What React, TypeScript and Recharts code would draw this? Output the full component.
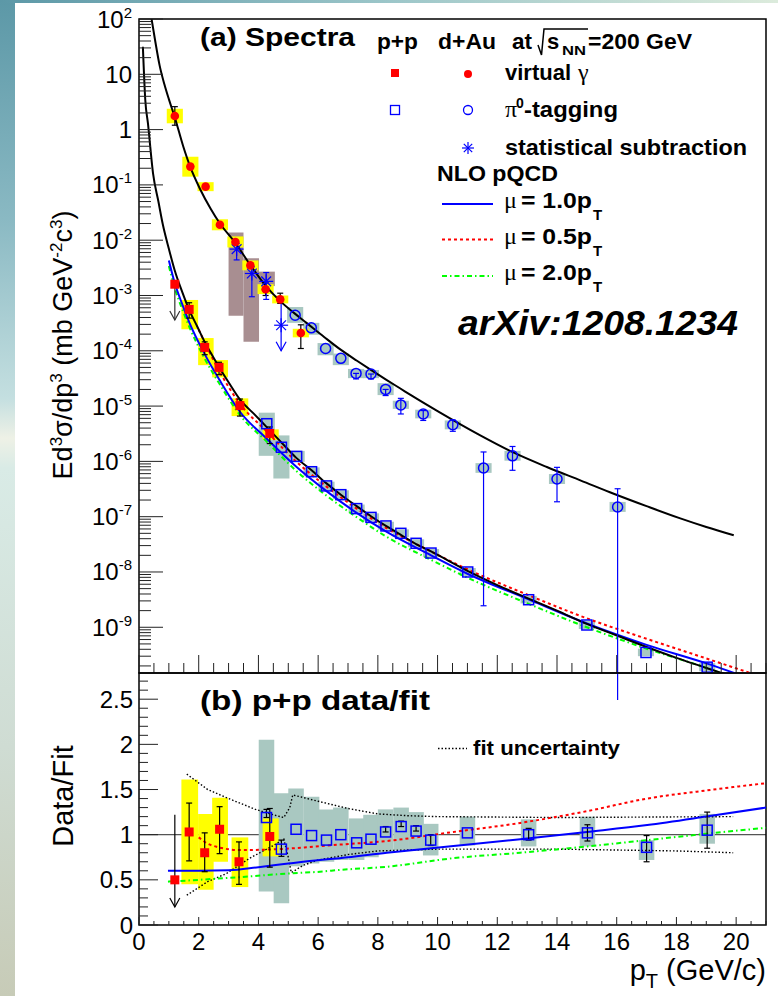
import React from 'react';
import {
  ComposedChart,
  ErrorBar,
  Line,
  ReferenceArea,
  ReferenceLine,
  Scatter,
  XAxis,
  YAxis,
} from 'recharts';

const FONT = '"Liberation Sans", Arial, Helvetica, sans-serif';
const SERIF = '"Liberation Serif", "DejaVu Serif", serif';

const TOP_MIN = 1.49e-10;
const TOP_MAX = 100;
const RATIO_MAX = 2.79;

// ---------- axis ticks ----------
const xTickLabels = [0, 2, 4, 6, 8, 10, 12, 14, 16, 18, 20];
const topYTickValues = [1e2, 1e1, 1, 1e-1, 1e-2, 1e-3, 1e-4, 1e-5, 1e-6, 1e-7, 1e-8, 1e-9];
const topYTickLabels = [
  ['10', '2'], ['10', ''], ['1', ''], ['10', '-1'], ['10', '-2'], ['10', '-3'],
  ['10', '-4'], ['10', '-5'], ['10', '-6'], ['10', '-7'], ['10', '-8'], ['10', '-9'],
];
const ratioYTickValues = [0, 0.5, 1, 1.5, 2, 2.5];
const ratioYTickLabels = ['0', '0.5', '1', '1.5', '2', '2.5'];

// ---------- (a) spectra: fits and NLO ----------
const dauFitPt = [0.4, 0.55, 0.69, 0.85, 1.0, 1.2, 1.48, 1.72, 2.04, 2.4, 2.71, 3.23, 3.73, 4.24, 4.73, 5.2, 5.61, 6.2, 6.73, 7.3, 7.74, 8.3, 8.74, 9.19, 10.0, 11.43, 12.5, 13.66, 14.8, 15.9, 17.0, 18.13, 19.0, 19.92];
const dauFitV = [117, 38, 14.5, 6.6, 3.55, 1.66, 0.5, 0.209, 0.085, 0.037, 0.02, 0.0089, 0.00355, 0.00151, 7.9e-4, 4.8e-4, 3.2e-4, 1.78e-4, 1.07e-4, 6.6e-5, 4.6e-5, 2.95e-5, 2.1e-5, 1.48e-5, 8.1e-6, 2.95e-6, 1.48e-6, 7.9e-7, 4.5e-7, 2.6e-7, 1.55e-7, 9.3e-8, 6.5e-8, 4.6e-8];

const ppFitPt = [0.13, 0.21, 0.3, 0.47, 0.65, 0.8, 1.0, 1.2, 1.45, 1.68, 1.95, 2.2, 2.45, 2.7, 3.0, 3.38, 3.9, 4.27, 4.77, 5.26, 5.78, 6.28, 6.76, 7.29, 7.77, 8.27, 8.77, 9.28, 9.78, 11.0, 12.0, 13.05, 14.0, 15.0, 16.0, 17.0, 18.0, 19.03, 19.8];
const ppFitV = [31.6, 3.47, 1.29, 0.162, 0.05, 0.019, 7.0e-3, 2.8e-3, 1.15e-3, 5.5e-4, 2.75e-4, 1.45e-4, 8.3e-5, 4.9e-5, 2.7e-5, 1.32e-5, 6.8e-6, 4.2e-6, 2.2e-6, 1.17e-6, 6.9e-7, 4.0e-7, 2.5e-7, 1.55e-7, 1.02e-7, 6.8e-8, 4.7e-8, 3.2e-8, 2.35e-8, 1.05e-8, 5.8e-9, 3.3e-9, 2.0e-9, 1.15e-9, 7.1e-10, 4.4e-10, 2.8e-10, 1.82e-10, 1.32e-10];

const nlo10Pt = [1.0, 1.2, 1.45, 1.68, 2.2, 2.7, 3.38, 4.27, 5.26, 6.28, 7.29, 8.27, 9.78, 11.0, 13.05, 15.0, 17.0, 19.03, 20.0];
const nlo10V = [4.3e-3, 1.66e-3, 6.9e-4, 3.3e-4, 8.7e-5, 2.95e-5, 7.9e-6, 2.6e-6, 8.1e-7, 2.9e-7, 1.17e-7, 5.4e-8, 2.0e-8, 9.3e-9, 3.2e-9, 1.17e-9, 4.8e-10, 2.2e-10, 1.45e-10];
const nlo05Pt = [2.0, 2.7, 3.38, 4.27, 5.26, 6.28, 7.29, 8.27, 9.78, 11.0, 13.05, 15.0, 17.0, 19.03, 20.6];
const nlo05V = [2.4e-4, 4.2e-5, 1.1e-5, 3.5e-6, 1.0e-6, 3.5e-7, 1.4e-7, 6.3e-8, 2.35e-8, 1.12e-8, 3.8e-9, 1.45e-9, 6.2e-10, 2.7e-10, 1.41e-10];
const nlo20Pt = [1.0, 1.2, 1.45, 1.68, 2.2, 2.7, 3.38, 4.27, 5.26, 6.28, 7.29, 8.27, 9.78, 11.0, 13.05, 15.0, 17.0, 19.03, 19.6];
const nlo20V = [3.4e-3, 1.35e-3, 5.6e-4, 2.75e-4, 7.2e-5, 2.5e-5, 6.9e-6, 2.3e-6, 6.8e-7, 2.4e-7, 9.8e-8, 4.4e-8, 1.66e-8, 7.9e-9, 2.65e-9, 1.0e-9, 4.1e-10, 1.82e-10, 1.41e-10];

// ---------- (a) spectra: data ----------
const dauGammaPt = [1.2, 1.72, 2.23, 2.71, 3.23, 3.73, 4.24, 4.73, 5.42];
const dauGammaV = [1.76, 0.214, 0.093, 0.019, 0.0093, 0.0035, 0.0013, 8.5e-4, 2.1e-4];
const dauGammaLo = [1.2, 0.2, 0.088, 0.018, 0.0088, 0.0033, 1.0e-3, 7.2e-4, 1.1e-4];
const dauGammaHi = [2.6, 0.23, 0.098, 0.02, 0.0099, 0.0037, 1.7e-3, 1.1e-3, 2.95e-4];
const dauGammaSysLo = [1.3, 0.141, 0.077, 0.0151, 0.0074, 0.00285, 1.06e-3, 7.2e-4, 1.75e-4];
const dauGammaSysHi = [2.38, 0.323, 0.112, 0.0239, 0.0117, 0.0043, 1.6e-3, 1.0e-3, 2.5e-4];

const dauPi0Pt = [5.23, 5.77, 6.25, 6.76, 7.27, 7.77, 8.26, 8.77, 9.52, 10.51, 11.54, 12.51, 14.0, 16.03];
const dauPi0V = [4.4e-4, 2.6e-4, 1.1e-4, 7.3e-5, 3.9e-5, 3.8e-5, 2.0e-5, 1.05e-5, 7.2e-6, 4.6e-6, 7.6e-7, 1.26e-6, 4.8e-7, 1.5e-7];
const dauPi0Lo = [4.4e-4, 2.6e-4, 1.1e-4, 7.3e-5, 3.1e-5, 3.1e-5, 1.55e-5, 7.2e-6, 5.5e-6, 3.5e-6, 2.45e-9, 6.9e-7, 1.86e-7, 1e-12];
const dauPi0Hi = [4.4e-4, 2.6e-4, 1.1e-4, 7.3e-5, 3.9e-5, 3.8e-5, 2.0e-5, 1.38e-5, 8.3e-6, 5.6e-6, 1.48e-6, 1.86e-6, 7.8e-7, 3.2e-7];
const dauPi0SysLo = [3.2e-4, 1.95e-4, 8.3e-5, 5.5e-5, 3.2e-5, 3.2e-5, 1.58e-5, 8.9e-6, 6.0e-6, 3.8e-6, 6.2e-7, 1.03e-6, 3.9e-7, 1.22e-7];
const dauPi0SysHi = [6.2e-4, 3.2e-4, 1.38e-4, 8.9e-5, 4.7e-5, 4.5e-5, 2.6e-5, 1.25e-5, 8.6e-6, 5.5e-6, 9.3e-7, 1.55e-6, 5.9e-7, 1.85e-7];

const dauStatPt = [3.27, 3.78, 4.26];
const dauStatV = [6.9e-3, 2.5e-3, 1.8e-3];
const dauStatLo = [4.4e-3, 9.5e-4, 8.5e-4];
const dauStatHi = [8.7e-3, 3.3e-3, 2.6e-3];
const dauStatSysX1 = [3.0, 3.5, 4.02];
const dauStatSysX2 = [3.5, 4.02, 4.55];
const dauStatSysLo = [4.3e-4, 1.45e-4, 1.48e-3];
const dauStatSysHi = [1.38e-2, 4.7e-3, 2.7e-3];
const dauStatLimitPt = [4.76];
const dauStatLimitV = [2.9e-4];
const dauStatLimitHi = [7.2e-4];
const dauStatLimitTip = [1.0e-4];

const ppGammaPt = [1.68, 2.2, 2.68, 3.38, 4.38];
const ppGammaV = [5.6e-4, 1.15e-4, 5.0e-5, 1.02e-5, 3.2e-6];
const ppGammaLo = [3.9e-4, 8.5e-5, 3.7e-5, 6.6e-6, 2.1e-6];
const ppGammaHi = [7.4e-4, 1.45e-4, 6.2e-5, 1.34e-5, 4.2e-6];
const ppGammaSysLo = [2.45e-4, 5.5e-5, 3.3e-5, 6.6e-6, 2.45e-6];
const ppGammaSysHi = [8.3e-4, 1.7e-4, 6.8e-5, 1.38e-5, 3.8e-6];
const ppGammaBinLo = [1.42, 1.98, 2.45, 3.1, 4.14];
const ppGammaBinHi = [1.98, 2.5, 2.98, 3.66, 4.68];
const ppGammaLimitPt = [1.2];
const ppGammaLimitV = [1.6e-3];
const ppGammaLimitTip = [3.6e-4];

const ppPi0Pt = [4.28, 4.77, 5.28, 5.78, 6.28, 6.76, 7.29, 7.77, 8.27, 8.77, 9.28, 9.78, 11.01, 13.05, 15.0, 16.98, 19.03];
const ppPi0V = [4.8e-6, 1.8e-6, 1.23e-6, 6.5e-7, 3.6e-7, 2.5e-7, 1.4e-7, 9.7e-8, 6.8e-8, 5.0e-8, 3.3e-8, 2.2e-8, 1.0e-8, 3.15e-9, 1.1e-9, 3.5e-10, 1.9e-10];
const ppPi0SysLo = [1.26e-6, 4.9e-7, 9.8e-7, 5.4e-7, 3.0e-7, 2.1e-7, 1.18e-7, 8.2e-8, 5.8e-8, 4.3e-8, 2.8e-8, 1.85e-8, 8.5e-9, 2.7e-9, 9.3e-10, 3.0e-10, 1.6e-10];
const ppPi0SysHi = [7.6e-6, 2.95e-6, 1.55e-6, 7.8e-7, 4.3e-7, 3.0e-7, 1.66e-7, 1.15e-7, 8.1e-8, 5.9e-8, 3.9e-8, 2.6e-8, 1.18e-8, 3.7e-9, 1.3e-9, 4.1e-10, 2.25e-10];

// ---------- (b) p+p data/fit ----------
const ratioGammaPt = [1.68, 2.2, 2.7, 3.35, 4.38];
const ratioGammaV = [1.03, 0.8, 1.06, 0.7, 0.98];
const ratioGammaLo = [0.71, 0.59, 0.79, 0.45, 0.64];
const ratioGammaHi = [1.35, 1.02, 1.31, 0.92, 1.29];
const ratioGammaSysLo = [0.45, 0.39, 0.7, 0.42, 0.76];
const ratioGammaSysHi = [1.61, 1.23, 1.41, 0.97, 1.18];
const ratioLimitPt = [1.2];
const ratioLimitV = [0.5];
const ratioLimitHi = [1.22];
const ratioLimitTip = [0.2];

const ratioPi0Pt = [4.27, 4.77, 5.26, 5.78, 6.28, 6.76, 7.29, 7.77, 8.26, 8.78, 9.28, 9.77, 11.0, 13.05, 15.02, 17.0, 19.03];
const ratioPi0V = [1.19, 0.84, 1.06, 0.99, 0.94, 1.0, 0.91, 0.95, 1.03, 1.09, 1.04, 0.94, 1.02, 1.0, 1.02, 0.86, 1.05];
const ratioPi0Lo = [1.19, 0.76, 1.06, 0.99, 0.94, 1.0, 0.91, 0.95, 1.03, 1.09, 1.04, 0.88, 1.02, 0.94, 0.93, 0.7, 0.85];
const ratioPi0Hi = [1.28, 0.94, 1.06, 0.99, 0.94, 1.0, 0.91, 0.95, 1.09, 1.15, 1.1, 1.0, 1.02, 1.07, 1.11, 0.99, 1.25];
const ratioPi0SysLo = [0.37, 0.24, 0.65, 0.68, 0.7, 0.72, 0.72, 0.75, 0.8, 0.83, 0.82, 0.77, 0.88, 0.87, 0.87, 0.72, 0.9];
const ratioPi0SysHi = [2.05, 1.46, 1.51, 1.42, 1.28, 1.3, 1.18, 1.22, 1.28, 1.3, 1.25, 1.12, 1.2, 1.17, 1.2, 0.94, 1.23];

const ratio10Pt = [0.97, 2.0, 3.0, 4.0, 5.0, 6.06, 6.73, 8.3, 10.53, 12.77, 15.0, 17.02, 19.0, 21.0];
const ratio10V = [0.6, 0.6, 0.605, 0.64, 0.68, 0.72, 0.74, 0.8, 0.874, 0.95, 1.03, 1.106, 1.2, 1.3];
const ratio05Pt = [2.0, 2.3, 2.6, 3.38, 4.49, 5.6, 6.73, 8.3, 10.53, 12.77, 15.0, 17.02, 19.0, 21.0];
const ratio05V = [0.97, 0.9, 0.866, 0.83, 0.837, 0.86, 0.89, 0.93, 1.03, 1.13, 1.26, 1.4, 1.49, 1.57];
const ratio20Pt = [0.97, 2.0, 3.38, 5.0, 6.06, 6.73, 8.3, 10.53, 12.77, 15.0, 17.02, 19.0, 21.0];
const ratio20V = [0.48, 0.5, 0.53, 0.57, 0.59, 0.61, 0.645, 0.74, 0.8, 0.87, 0.94, 1.01, 1.076];

const fitUncUpPt = [1.6, 2.3, 3.0, 3.9, 4.5, 4.85, 5.05, 5.15, 6.0, 7.0, 8.0, 9.0, 10.0, 14.0, 19.9];
const fitUncUpV = [1.67, 1.5, 1.4, 1.28, 1.22, 1.19, 1.3, 1.44, 1.37, 1.29, 1.23, 1.21, 1.2, 1.19, 1.2];
const fitUncLoPt = [1.6, 2.3, 2.93, 3.71, 4.5, 4.85, 5.0, 5.1, 5.5, 6.0, 7.0, 8.0, 10.0, 14.0, 18.0, 19.9];
const fitUncLoV = [0.33, 0.48, 0.57, 0.74, 0.88, 0.95, 0.75, 0.58, 0.66, 0.72, 0.78, 0.82, 0.84, 0.84, 0.82, 0.8];

// ---------- helpers ----------
type Pt = { pt: number; v: number; err?: [number, number] };
interface Box { x1: number; x2: number; lo: number; hi: number }

const series = (pts: number[], vals: number[]): Pt[] => pts.map((pt, i) => ({ pt, v: vals[i] }));

const withErr = (pts: number[], vals: number[], lo: number[], hi: number[]): Pt[] =>
  pts
    .map((pt, i) => ({ pt, v: vals[i], err: [vals[i] - lo[i], hi[i] - vals[i]] as [number, number] }))
    .filter((p) => p.err[0] > 0 || p.err[1] > 0);

const boxes = (pts: number[], half: number, lo: number[], hi: number[]): Box[] =>
  pts.map((pt, i) => ({ x1: pt - half, x2: pt + half, lo: lo[i], hi: hi[i] }));

const binBoxes = (x1: number[], x2: number[], lo: number[], hi: number[]): Box[] =>
  x1.map((a, i) => ({ x1: a, x2: x2[i], lo: lo[i], hi: hi[i] }));

const halfTicks = Array.from({ length: 43 }, (_, i) => i * 0.5);
const logTicks: number[] = (() => {
  const out: number[] = [];
  for (let d = -10; d <= 1; d++) {
    for (let k = 1; k <= 9; k++) {
      const v = k * Math.pow(10, d);
      if (v >= TOP_MIN && v < TOP_MAX) out.push(v);
    }
  }
  out.push(TOP_MAX);
  return out;
})();
const ratioTicks = Array.from({ length: 28 }, (_, i) => i / 10);

const RED = '#ff0000';
const BLUE = '#0000ff';
const GREEN = '#00ff00';
const YELLOW = '#ffff00';
const TEAL_BOX = '#a9c8c1';
const BROWN_BOX = '#a88e91';
const TICK = '#222';

// ---------- markers ----------
const filledSquare = (s: number) => (p: any) => (
  <rect x={p.cx - s / 2} y={p.cy - s / 2} width={s} height={s} fill={RED} />
);
const openSquare = (s: number) => (p: any) => (
  <rect x={p.cx - s / 2} y={p.cy - s / 2} width={s} height={s} fill="none" stroke={BLUE} strokeWidth={1.5} />
);
const filledCircle = (r: number) => (p: any) => <circle cx={p.cx} cy={p.cy} r={r} fill={RED} />;
const openCircle = (r: number) => (p: any) => (
  <circle cx={p.cx} cy={p.cy} r={r} fill="none" stroke={BLUE} strokeWidth={1.5} />
);
function StarMark({ cx, cy, r }: { cx: number; cy: number; r: number }) {
  const d = r * 0.7;
  return (
    <g stroke={BLUE} strokeWidth={1.2}>
      <line x1={cx - r} x2={cx + r} y1={cy} y2={cy} />
      <line x1={cx} x2={cx} y1={cy - r} y2={cy + r} />
      <line x1={cx - d} x2={cx + d} y1={cy - d} y2={cy + d} />
      <line x1={cx - d} x2={cx + d} y1={cy + d} y2={cy - d} />
    </g>
  );
}
const star = (r: number) => (p: any) => <StarMark cx={p.cx} cy={p.cy} r={r} />;
const noMark = () => <g />;
const arrowHead = (color: string) => (p: any) => (
  <polyline
    points={`${p.cx - 5},${p.cy - 9} ${p.cx},${p.cy} ${p.cx + 5},${p.cy - 9}`}
    fill="none"
    stroke={color}
    strokeWidth={1.2}
  />
);

// ---------- ticks ----------
function TopYTick({ x, y, payload }: any) {
  const v = payload.value as number;
  const idx = topYTickValues.findIndex((t) => Math.abs(t - v) / t < 1e-6);
  const major = idx >= 0;
  return (
    <g>
      <line x1={x} x2={x + (major ? 24 : 12)} y1={y} y2={y} stroke={TICK} strokeWidth={1} />
      {major && (
        <text x={x - 7} y={y + 8.5} textAnchor="end" fontSize={24} fontFamily={FONT} fill="#000">
          {topYTickLabels[idx][0]}
          {topYTickLabels[idx][1] ? (
            <tspan dy={-10} fontSize={15}>
              {topYTickLabels[idx][1]}
            </tspan>
          ) : null}
        </text>
      )}
    </g>
  );
}

function TopXTick({ x, y, payload }: any) {
  const major = payload.value % 2 === 0;
  return <line x1={x} x2={x} y1={y} y2={y - (major ? 18 : 10)} stroke={TICK} strokeWidth={1} />;
}

function RatioYTick({ x, y, payload }: any) {
  const v = payload.value as number;
  const idx = ratioYTickValues.findIndex((t) => Math.abs(t - v) < 1e-6);
  const major = idx >= 0;
  return (
    <g>
      <line x1={x} x2={x + (major ? 19 : 9)} y1={y} y2={y} stroke={TICK} strokeWidth={1} />
      {major && (
        <text x={x - 6} y={y + 8.5} textAnchor="end" fontSize={24} fontFamily={FONT} fill="#000">
          {ratioYTickLabels[idx]}
        </text>
      )}
    </g>
  );
}

function RatioXTick({ x, y, payload }: any) {
  const v = payload.value as number;
  const major = v % 2 === 0;
  const showLabel = xTickLabels.includes(v);
  return (
    <g>
      <line x1={x} x2={x} y1={y} y2={y - (major ? 8 : 4)} stroke={TICK} strokeWidth={1} />
      {showLabel && (
        <text x={x} y={y + 25} textAnchor="middle" fontSize={24} fontFamily={FONT} fill="#000">
          {v}
        </text>
      )}
    </g>
  );
}

function renderBoxes(list: Box[], fill: string, key: string) {
  return list.map((b, i) => (
    <ReferenceArea
      key={`${key}-${i}`}
      x1={b.x1}
      x2={b.x2}
      y1={b.lo}
      y2={b.hi}
      fill={fill}
      fillOpacity={1}
      stroke="none"
      ifOverflow="hidden"
    />
  ));
}

// ---------- (a) spectra panel ----------
function SpectraPanel() {
  return (
    <ComposedChart width={778} height={700} margin={{ top: 19, right: 12, bottom: 17, left: 59 }}>
      <XAxis
        dataKey="pt"
        type="number"
        domain={[0, 21]}
        allowDataOverflow
        ticks={halfTicks}
        interval={0}
        tickSize={0}
        tickMargin={0}
        axisLine={false}
        tickLine={false}
        height={10}
        tick={(p: any) => <TopXTick {...p} />}
      />
      <YAxis
        dataKey="v"
        type="number"
        scale="log"
        domain={[TOP_MIN, TOP_MAX]}
        allowDataOverflow
        ticks={logTicks}
        interval={0}
        tickSize={0}
        tickMargin={0}
        axisLine={false}
        tickLine={false}
        width={80}
        tick={(p: any) => <TopYTick {...p} />}
      />

      {renderBoxes(binBoxes(dauStatSysX1, dauStatSysX2, dauStatSysLo, dauStatSysHi), BROWN_BOX, 'brown')}
      {renderBoxes(boxes(dauPi0Pt, 0.27, dauPi0SysLo, dauPi0SysHi), TEAL_BOX, 'dpi0')}
      {renderBoxes(boxes(ppPi0Pt, 0.27, ppPi0SysLo, ppPi0SysHi), TEAL_BOX, 'ppi0')}
      {renderBoxes(boxes(dauGammaPt, 0.27, dauGammaSysLo, dauGammaSysHi), YELLOW, 'dgam')}
      {renderBoxes(binBoxes(ppGammaBinLo, ppGammaBinHi, ppGammaSysLo, ppGammaSysHi), YELLOW, 'pgam')}

      <Line data={series(nlo20Pt, nlo20V)} dataKey="v" type="monotone" stroke={GREEN} strokeWidth={2} strokeDasharray="5 3 1.5 3" dot={false} isAnimationActive={false} />
      <Line data={series(nlo05Pt, nlo05V)} dataKey="v" type="monotone" stroke={RED} strokeWidth={2} strokeDasharray="3 3" dot={false} isAnimationActive={false} />
      <Line data={series(nlo10Pt, nlo10V)} dataKey="v" type="monotone" stroke={BLUE} strokeWidth={2} dot={false} isAnimationActive={false} />
      <Line data={series(ppFitPt, ppFitV)} dataKey="v" type="monotone" stroke="#000" strokeWidth={2} dot={false} isAnimationActive={false} />
      <Line data={series(dauFitPt, dauFitV)} dataKey="v" type="monotone" stroke="#000" strokeWidth={2} dot={false} isAnimationActive={false} />

      {/* error bars */}
      <Scatter data={withErr(dauGammaPt, dauGammaV, dauGammaLo, dauGammaHi)} dataKey="v" shape={noMark} isAnimationActive={false}>
        <ErrorBar dataKey="err" direction="y" width={3} stroke="#000" strokeWidth={1.2} />
      </Scatter>
      <Scatter data={withErr(ppGammaPt, ppGammaV, ppGammaLo, ppGammaHi)} dataKey="v" shape={noMark} isAnimationActive={false}>
        <ErrorBar dataKey="err" direction="y" width={3} stroke="#000" strokeWidth={1.2} />
      </Scatter>
      <Scatter data={withErr(dauPi0Pt, dauPi0V, dauPi0Lo, dauPi0Hi)} dataKey="v" shape={noMark} isAnimationActive={false}>
        <ErrorBar dataKey="err" direction="y" width={3} stroke={BLUE} strokeWidth={1.2} />
      </Scatter>
      <Scatter data={withErr(dauStatPt, dauStatV, dauStatLo, dauStatHi)} dataKey="v" shape={noMark} isAnimationActive={false}>
        <ErrorBar dataKey="err" direction="y" width={3} stroke={BLUE} strokeWidth={1.2} />
      </Scatter>
      <Scatter data={withErr(dauStatLimitPt, dauStatLimitV, dauStatLimitTip, dauStatLimitHi)} dataKey="v" shape={noMark} isAnimationActive={false}>
        <ErrorBar dataKey="err" direction="y" width={0} stroke={BLUE} strokeWidth={1.2} />
      </Scatter>
      <Scatter data={withErr(ppGammaLimitPt, ppGammaLimitV, ppGammaLimitTip, ppGammaLimitV)} dataKey="v" shape={noMark} isAnimationActive={false}>
        <ErrorBar dataKey="err" direction="y" width={0} stroke="#333" strokeWidth={1.2} />
      </Scatter>
      <Scatter data={series(dauStatLimitPt, dauStatLimitTip)} dataKey="v" shape={arrowHead(BLUE)} isAnimationActive={false} />
      <Scatter data={series(ppGammaLimitPt, ppGammaLimitTip)} dataKey="v" shape={arrowHead('#333')} isAnimationActive={false} />

      {/* markers */}
      <Scatter data={series(ppPi0Pt, ppPi0V)} dataKey="v" shape={openSquare(10)} isAnimationActive={false} />
      <Scatter data={series(dauPi0Pt, dauPi0V)} dataKey="v" shape={openCircle(5)} isAnimationActive={false} />
      <Scatter data={series(dauStatPt.concat(dauStatLimitPt), dauStatV.concat(dauStatLimitV))} dataKey="v" shape={star(7)} isAnimationActive={false} />
      <Scatter data={series(ppGammaLimitPt.concat(ppGammaPt), ppGammaLimitV.concat(ppGammaV))} dataKey="v" shape={filledSquare(9)} isAnimationActive={false} />
      <Scatter data={series(dauGammaPt, dauGammaV)} dataKey="v" shape={filledCircle(4.3)} isAnimationActive={false} />

      <ReferenceArea x1={0} x2={21} y1={TOP_MIN} y2={TOP_MAX} fill="none" stroke="#000" strokeWidth={1.5} ifOverflow="visible" />
    </ComposedChart>
  );
}

// ---------- (b) ratio panel ----------
function RatioPanel() {
  return (
    <ComposedChart width={778} height={346} margin={{ top: 23, right: 12, bottom: 21, left: 59 }}>
      <XAxis
        dataKey="pt"
        type="number"
        domain={[0, 21]}
        allowDataOverflow
        ticks={halfTicks}
        interval={0}
        tickSize={0}
        tickMargin={0}
        axisLine={false}
        tickLine={false}
        height={50}
        tick={(p: any) => <RatioXTick {...p} />}
      />
      <YAxis
        dataKey="v"
        type="number"
        domain={[0, RATIO_MAX]}
        allowDataOverflow
        ticks={ratioTicks}
        interval={0}
        tickSize={0}
        tickMargin={0}
        axisLine={false}
        tickLine={false}
        width={80}
        tick={(p: any) => <RatioYTick {...p} />}
      />

      <ReferenceLine y={1} stroke="#555" strokeWidth={1.3} ifOverflow="hidden" zIndex={50} />
      {renderBoxes(boxes(ratioPi0Pt, 0.26, ratioPi0SysLo, ratioPi0SysHi), TEAL_BOX, 'rpi0')}
      {renderBoxes(binBoxes(ppGammaBinLo, ppGammaBinHi, ratioGammaSysLo, ratioGammaSysHi), YELLOW, 'rgam')}

      <Line data={series(fitUncUpPt, fitUncUpV)} dataKey="v" type="linear" stroke="#000" strokeWidth={1.4} strokeDasharray="1.5 2" dot={false} isAnimationActive={false} />
      <Line data={series(fitUncLoPt, fitUncLoV)} dataKey="v" type="linear" stroke="#000" strokeWidth={1.4} strokeDasharray="1.5 2" dot={false} isAnimationActive={false} />
      <Line data={series(ratio20Pt, ratio20V)} dataKey="v" type="monotone" stroke={GREEN} strokeWidth={2} strokeDasharray="5 3 1.5 3" dot={false} isAnimationActive={false} />
      <Line data={series(ratio05Pt, ratio05V)} dataKey="v" type="monotone" stroke={RED} strokeWidth={2} strokeDasharray="3 3" dot={false} isAnimationActive={false} />
      <Line data={series(ratio10Pt, ratio10V)} dataKey="v" type="monotone" stroke={BLUE} strokeWidth={2} dot={false} isAnimationActive={false} />

      <Scatter data={withErr(ratioGammaPt, ratioGammaV, ratioGammaLo, ratioGammaHi)} dataKey="v" shape={noMark} isAnimationActive={false}>
        <ErrorBar dataKey="err" direction="y" width={3} stroke="#000" strokeWidth={1.2} />
      </Scatter>
      <Scatter data={withErr(ratioPi0Pt, ratioPi0V, ratioPi0Lo, ratioPi0Hi)} dataKey="v" shape={noMark} isAnimationActive={false}>
        <ErrorBar dataKey="err" direction="y" width={3} stroke="#000" strokeWidth={1.2} />
      </Scatter>
      <Scatter data={withErr(ratioLimitPt, ratioLimitV, ratioLimitTip, ratioLimitHi)} dataKey="v" shape={noMark} isAnimationActive={false}>
        <ErrorBar dataKey="err" direction="y" width={0} stroke="#000" strokeWidth={1.2} />
      </Scatter>
      <Scatter data={series(ratioLimitPt, ratioLimitTip)} dataKey="v" shape={arrowHead('#000')} isAnimationActive={false} />

      <Scatter data={series(ratioPi0Pt, ratioPi0V)} dataKey="v" shape={openSquare(10)} isAnimationActive={false} />
      <Scatter data={series(ratioLimitPt.concat(ratioGammaPt), ratioLimitV.concat(ratioGammaV))} dataKey="v" shape={filledSquare(9)} isAnimationActive={false} />

      <ReferenceArea x1={0} x2={21} y1={0} y2={RATIO_MAX} fill="none" stroke="#000" strokeWidth={1.5} ifOverflow="visible" />
    </ComposedChart>
  );
}

// ---------- text overlay ----------
function Overlay() {
  const bold = { fontFamily: FONT, fontWeight: 700 as const, fill: '#000' };
  const nloRows = [
    { y: 204, label: '1.0', color: BLUE, dash: undefined },
    { y: 239.5, label: '0.5', color: RED, dash: '3 3' },
    { y: 276, label: '2.0', color: GREEN, dash: '5 3 1.5 3' },
  ];
  return (
    <svg width={778} height={996} style={{ position: 'absolute', left: 0, top: 0, pointerEvents: 'none' }}>
      <text x={200} y={46} fontSize={26} textLength={155} lengthAdjust="spacingAndGlyphs" {...bold}>(a) Spectra</text>

      <text x={377} y={49} fontSize={22} textLength={41} lengthAdjust="spacingAndGlyphs" {...bold}>p+p</text>
      <text x={438} y={49} fontSize={22} textLength={58} lengthAdjust="spacingAndGlyphs" {...bold}>d+Au</text>
      <text x={512} y={49} fontSize={22} textLength={20} lengthAdjust="spacingAndGlyphs" {...bold}>at</text>
      <polyline points="538,45 541.5,55 544,29 588,29" fill="none" stroke="#000" strokeWidth={1.5} />
      <text x={547} y={49} fontSize={22} {...bold}>s</text>
      <text x={562} y={55} fontSize={12} textLength={24} lengthAdjust="spacingAndGlyphs" {...bold}>NN</text>
      <text x={588} y={49} fontSize={22} textLength={104} lengthAdjust="spacingAndGlyphs" {...bold}>=200 GeV</text>

      <rect x={391} y={69} width={8} height={8} fill={RED} />
      <circle cx={468} cy={74} r={4} fill={RED} />
      <text x={505} y={80} fontSize={22} textLength={66} lengthAdjust="spacingAndGlyphs" {...bold}>virtual</text>
      <text x={578} y={80} fontSize={24} fontFamily={SERIF}>γ</text>

      <rect x={390.5} y={105.5} width={9} height={9} fill="none" stroke={BLUE} strokeWidth={1.3} />
      <circle cx={468} cy={110} r={4.5} fill="none" stroke={BLUE} strokeWidth={1.3} />
      <text x={505} y={117} fontSize={24} fontFamily={SERIF}>π</text>
      <text x={516} y={108} fontSize={14} {...bold}>0</text>
      <text x={524} y={117} fontSize={22} textLength={94} lengthAdjust="spacingAndGlyphs" {...bold}>-tagging</text>

      <StarMark cx={468} cy={148} r={6} />
      <text x={505} y={155} fontSize={22} textLength={242} lengthAdjust="spacingAndGlyphs" {...bold}>statistical subtraction</text>

      <text x={437} y={181} fontSize={22} textLength={121} lengthAdjust="spacingAndGlyphs" {...bold}>NLO pQCD</text>
      {nloRows.map((r) => (
        <g key={r.label}>
          <line x1={442} x2={493} y1={r.y} y2={r.y} stroke={r.color} strokeWidth={2} strokeDasharray={r.dash} />
          <text x={504} y={r.y + 4} fontSize={24} fontFamily={SERIF}>μ</text>
          <text x={521} y={r.y + 4} fontSize={22} textLength={71} lengthAdjust="spacingAndGlyphs" {...bold}>{`= ${r.label}p`}</text>
          <text x={593} y={r.y + 16} fontSize={15} {...bold}>T</text>
        </g>
      ))}

      <text x={458} y={335} fontSize={35} fontStyle="italic" textLength={280} lengthAdjust="spacingAndGlyphs" {...bold}>arXiv:1208.1234</text>

      <text transform="translate(72,345) rotate(-90)" textAnchor="middle" fontSize={27} fontFamily={FONT} fill="#000">
        Ed<tspan dy={-10} fontSize={17}>3</tspan>
        <tspan dy={10}>σ/dp</tspan>
        <tspan dy={-10} fontSize={17}>3</tspan>
        <tspan dy={10}> (mb GeV</tspan>
        <tspan dy={-10} fontSize={17}>-2</tspan>
        <tspan dy={10}>c</tspan>
        <tspan dy={-10} fontSize={17}>3</tspan>
        <tspan dy={10}>)</tspan>
      </text>

      <text x={200} y={710} fontSize={27} textLength={230} lengthAdjust="spacingAndGlyphs" {...bold}>(b) p+p data/fit</text>
      <line x1={438} x2={467} y1={748.5} y2={748.5} stroke="#000" strokeWidth={1.4} strokeDasharray="1.5 2" />
      <text x={473} y={755} fontSize={20} textLength={147} lengthAdjust="spacingAndGlyphs" {...bold}>fit uncertainty</text>

      <text transform="translate(73,796) rotate(-90)" textAnchor="middle" fontSize={29} fontFamily={FONT} fill="#000">Data/Fit</text>

      <text x={766} y={980} textAnchor="end" fontSize={29} fontFamily={FONT} fill="#000">
        p<tspan dy={8} fontSize={20}>T</tspan>
        <tspan dy={-8}> (GeV/c)</tspan>
      </text>
    </svg>
  );
}

export default function App() {
  return (
    <div style={{ position: 'absolute', left: 0, top: 0, width: 778, height: 996, overflow: 'hidden', background: '#fff', fontFamily: FONT }}>
      <div
        style={{
          position: 'absolute', left: 0, top: 0, width: 15, height: 996,
          background: 'linear-gradient(180deg, #5c98a7 0%, #8ab9c3 22%, #c4dfe0 40%, #eef1e6 44%, #d9ebe6 47%, #cfdcd3 75%, #c7cbb7 100%)',
        }}
      />
      <div
        style={{
          position: 'absolute', left: 0, top: 0, width: 778, height: 3,
          background: 'linear-gradient(90deg, #5c98a7 0%, #9cc6c9 50%, #dcebdc 100%)',
        }}
      />
      <div style={{ position: 'absolute', left: 0, top: 0 }}>
        <SpectraPanel />
      </div>
      <div style={{ position: 'absolute', left: 0, top: 650 }}>
        <RatioPanel />
      </div>
      <Overlay />
    </div>
  );
}
